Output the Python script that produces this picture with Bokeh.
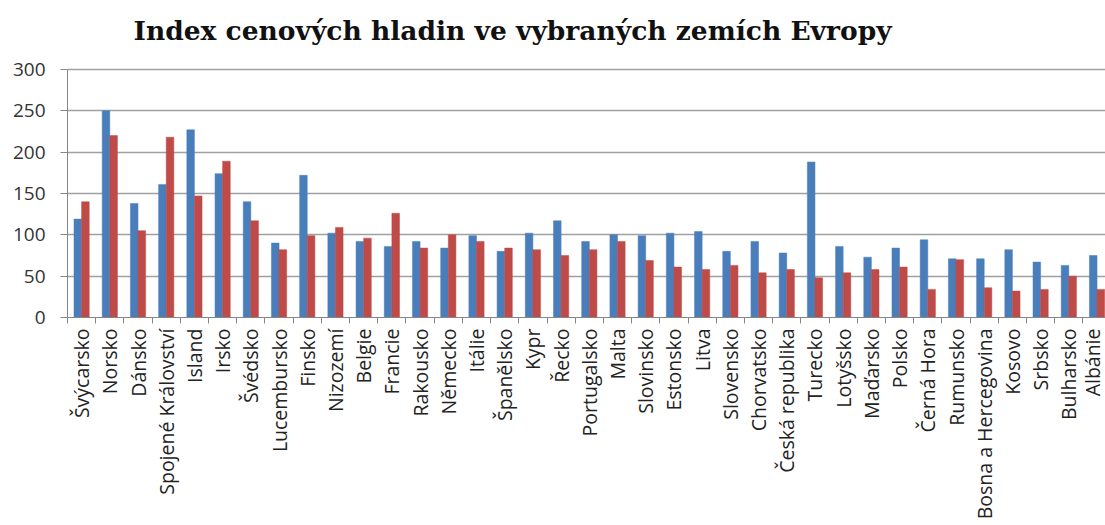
import math
from bokeh.plotting import figure
from bokeh.models import ColumnDataSource, Range1d, FixedTicker
from bokeh.transform import dodge
from bokeh.embed import file_html
from bokeh.resources import INLINE

title_text = "Index cenových hladin ve vybraných zemích Evropy"

countries = [
    "Švýcarsko", "Norsko", "Dánsko", "Spojené Království", "Island", "Irsko",
    "Švédsko", "Lucembursko", "Finsko", "Nizozemí", "Belgie", "Francie",
    "Rakousko", "Německo", "Itálie", "Španělsko", "Kypr", "Řecko",
    "Portugalsko", "Malta", "Slovinsko", "Estonsko", "Litva", "Slovensko",
    "Chorvatsko", "Česká republika", "Turecko", "Lotyšsko", "Maďarsko",
    "Polsko", "Černá Hora", "Rumunsko", "Bosna a Hercegovina", "Kosovo",
    "Srbsko", "Bulharsko", "Albánie",
]

series_blue = [
    119, 250, 138, 161, 227, 174,
    140, 90, 172, 102, 92, 86,
    92, 84, 99, 80, 102, 117,
    92, 100, 99, 102, 104, 80,
    92, 78, 188, 86, 73,
    84, 94, 71, 71, 82,
    67, 63, 75,
]

series_red = [
    140, 220, 105, 218, 147, 189,
    117, 82, 99, 109, 96, 126,
    84, 100, 92, 84, 82, 75,
    82, 92, 69, 61, 58, 63,
    54, 58, 48, 54, 58,
    61, 34, 70, 36, 32,
    34, 50, 34,
]

y_ticks = [0, 50, 100, 150, 200, 250, 300]

n = len(countries)
centers = [i + 0.5 for i in range(n)]
bounds = [float(i) for i in range(n + 1)]

src = ColumnDataSource(dict(x=centers, blue=series_blue, red=series_red, name=countries))

# frame spans y 45..317 px; range top leaves headroom above the 300 gridline
p = figure(
    width=1105, height=525,
    x_range=Range1d(0, 36.8), y_range=Range1d(0, 329),
    output_backend="svg", toolbar_location=None,
    min_border_left=67, min_border_right=0, min_border_bottom=208, min_border_top=45,
    title=title_text,
)

p.vbar(x=dodge("x", -0.135, range=p.x_range), top="blue", width=0.27, bottom=0,
       source=src, fill_color="#4a7ebb", line_color="#4a7ebb", line_width=0.5)
p.vbar(x=dodge("x", 0.135, range=p.x_range), top="red", width=0.27, bottom=0,
       source=src, fill_color="#be4b48", line_color="#be4b48", line_width=0.5)

# title
p.title.text_font = "DejaVu Serif"
p.title.text_font_style = "bold"
p.title.text_font_size = "26.5px"
p.title.text_color = "#111111"
p.title.align = "left"
p.title.offset = 66
p.title.vertical_align = "bottom"
p.title.standoff = 0

p.outline_line_color = None
p.background_fill_color = "white"
p.border_fill_color = "white"

# x axis: ticks between categories, names at category centres
xa = p.xaxis[0]
xa.ticker = FixedTicker(ticks=centers, minor_ticks=bounds)
xa.major_label_overrides = {c: name for c, name in zip(centers, countries)}
xa.major_label_orientation = math.pi / 2
xa.major_tick_in = 0
xa.major_tick_out = 0
xa.minor_tick_in = 0
xa.minor_tick_out = 6
xa.minor_tick_line_color = "#868686"
xa.axis_line_color = "#868686"
xa.major_label_text_font = "Open Sans"
xa.major_label_text_font_size = "19.5px"
xa.major_label_text_color = "#222222"
xa.major_label_standoff = 5

# y axis
ya = p.yaxis[0]
ya.ticker = FixedTicker(ticks=y_ticks)
ya.bounds = (0, 300)
ya.major_tick_in = 0
ya.major_tick_out = 7
ya.minor_tick_line_color = None
ya.axis_line_color = "#868686"
ya.major_tick_line_color = "#868686"
ya.major_label_text_font = "Open Sans"
ya.major_label_text_font_size = "19px"
ya.major_label_text_color = "#333333"
ya.major_label_standoff = 15

p.xgrid.grid_line_color = None
p.ygrid.grid_line_color = "#a0a0a0"
p.ygrid.grid_line_width = 1.5

open("out.html", "w").write(file_html(p, INLINE))
